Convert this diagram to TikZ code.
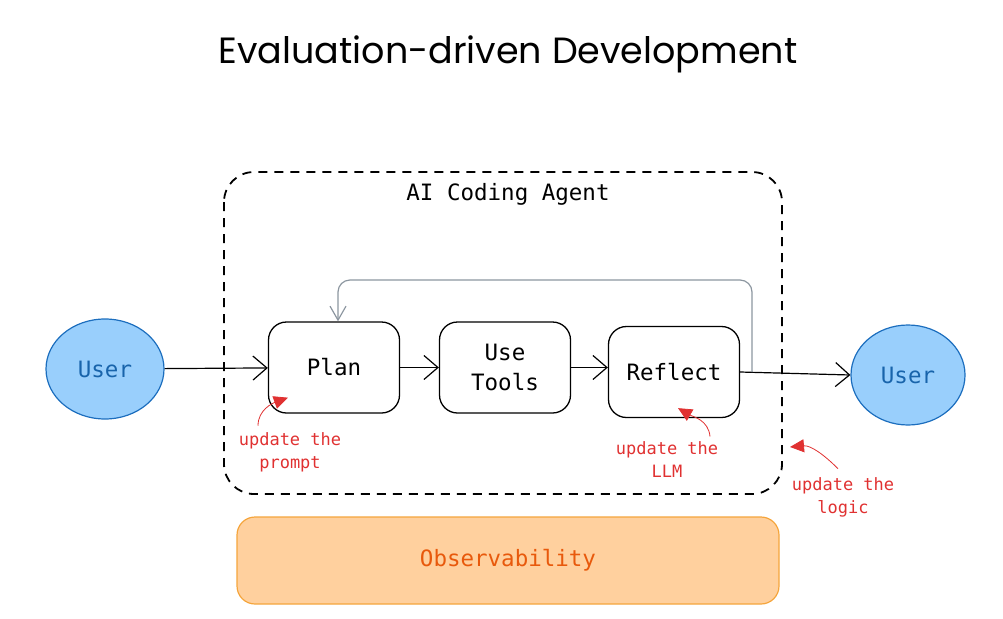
\documentclass[tikz,border=0pt]{standalone}
\usepackage{fontspec}
\setmonofont{DejaVu Sans Mono}
\newfontfamily\titlefont{Poppins}
\usepackage{tikz}
\usetikzlibrary{arrows.meta,positioning,shapes.geometric}
\definecolor{userfill}{RGB}{153,207,252}
\definecolor{userline}{RGB}{28,110,190}
\definecolor{usertext}{RGB}{24,100,171}
\definecolor{obsfill}{RGB}{255,208,158}
\definecolor{obsline}{RGB}{245,165,60}
\definecolor{obstext}{RGB}{232,89,12}
\definecolor{notered}{RGB}{224,49,49}
\definecolor{loopgray}{RGB}{140,150,160}

\begin{document}
\begin{tikzpicture}[
    x=1pt, y=-1pt, >={Straight Barb[length=14pt,width=24pt]},
    every node/.style={font=\ttfamily\fontsize{22.5}{30}\selectfont},
    user/.style={ellipse, draw=userline, fill=userfill, line width=1.2pt,
        minimum width=118pt, minimum height=100pt, text=usertext},
    stage/.style={draw, rounded corners=18pt, line width=1.3pt,
        minimum width=131pt, minimum height=91pt, align=center},
    note/.style={text=notered, align=center,
        font=\ttfamily\fontsize{17}{23}\selectfont},
    notearrow/.style={notered, line width=0.8pt, -{Triangle[length=14pt,width=13pt]}},
    flow/.style={->, line width=1.2pt}
]
\useasboundingbox (0,0) rectangle (1003,618);

\node[font=\titlefont\fontsize{36.5}{44}\selectfont] (title) at (508,54) {Evaluation-driven Development};

% agent frame
\draw[dash pattern=on 9pt off 7pt, line width=1.8pt, rounded corners=30pt]
    (224,172) rectangle (782,494);
\node (agent) at (508,194) {AI Coding Agent};

\node[user] (u1) at (105,369) {User};
\node[user, minimum width=114pt] (u2) at (908,375) {User};

\node[stage] (plan) at (334,367.5) {Plan};
\node[stage] (tools) at (505,367.5) {Use\\Tools};
\node[stage] (reflect) at (674,372) {Reflect};

\node[draw=obsline, fill=obsfill, line width=1.2pt, rounded corners=18pt,
      minimum width=542pt, minimum height=87pt, text=obstext] (obs) at (508,560.5) {Observability};

\path[flow]
 (u1) edge (plan)
 (plan) edge (tools)
 (tools.east) edge (reflect.west |- tools.east)
 (reflect.east) edge (u2.west);

\coordinate (fork) at (752,372);
\draw[-{Straight Barb[length=14pt,width=16pt]}, loopgray, line width=1.2pt, rounded corners=12pt]
    (fork) -- ++(0,-92) -| ([xshift=4pt]plan.north);

% annotations
\node[note] (nprompt) at (290,452) {update the\\prompt};
\node[note] (nllm) at (667,460) {update the\\LLM};
\node[note] (nlogic) at (843,497) {update the\\logic};

\draw[notearrow] ([xshift=-32pt,yshift=3pt]nprompt.north) to[out=90,in=200]
    ([shift={(20pt,16pt)}]plan.south west);
\draw[notearrow] ([xshift=43pt,yshift=2pt]nllm.north) to[out=95,in=-30]
    ([shift={(4pt,10pt)}]reflect.south);
\draw[notearrow] ([xshift=-5pt,yshift=5pt]nlogic.north) to[out=135,in=5]
    (790,447);
\end{tikzpicture}
\end{document}
